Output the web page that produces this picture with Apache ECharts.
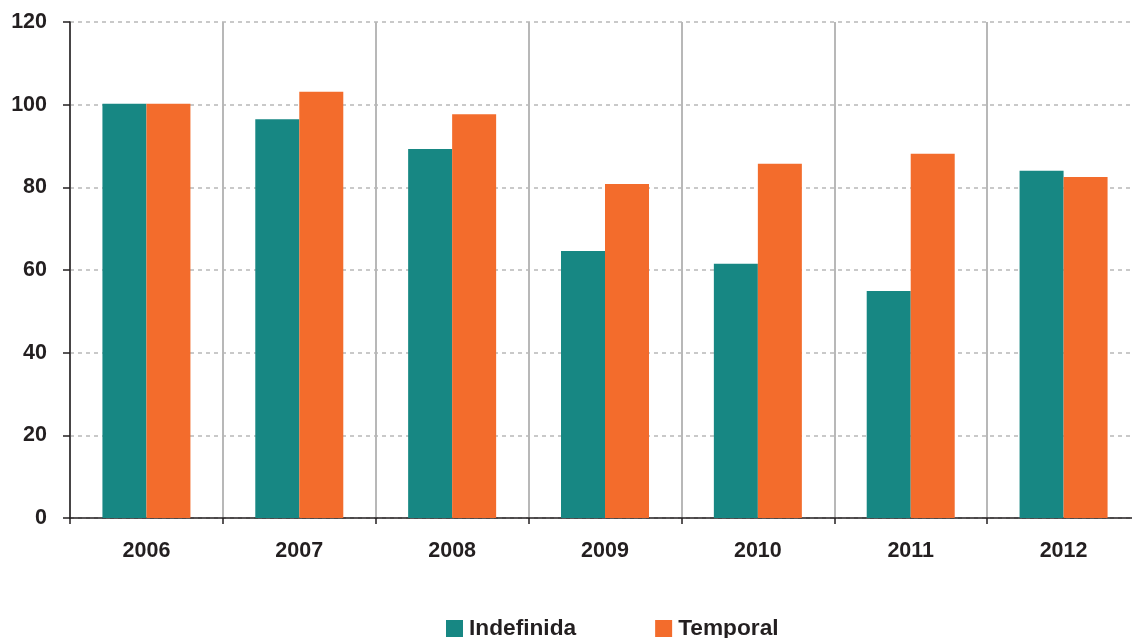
<!DOCTYPE html>
<html><head><meta charset="utf-8">
<script src="https://cdn.jsdelivr.net/npm/echarts@6/dist/echarts.min.js"></script>
<style>html,body{margin:0;padding:0;background:#fff;overflow:hidden}#c{width:1140px;height:638px}</style>
</head><body><div id="c"></div>
<script>
const categories = ['2006','2007','2008','2009','2010','2011','2012'];
const indefinida = [100.2, 96.5, 89.3, 64.6, 61.5, 54.9, 84.0];
const temporal = [100.2, 103.1, 97.7, 80.8, 85.7, 88.1, 82.5];
const yTicks = [0, 20, 40, 60, 80, 100, 120];

const chart = echarts.init(document.getElementById('c'));
const font = 'Liberation Sans, Arial, Helvetica, sans-serif';
chart.setOption({
  animation: false,
  grid: { left: 70, right: 0, top: 22, height: 496, containLabel: false },
  legend: {
    top: 617, left: 446, padding: 0, itemWidth: 17, itemHeight: 17, itemGap: 79,
    icon: 'rect',
    textStyle: { fontFamily: font, fontWeight: 'bold', fontSize: 22.7, color: '#231f20', padding: [0, 0, 0, 1] },
    data: ['Indefinida', 'Temporal']
  },
  xAxis: {
    type: 'category', data: categories,
    axisLine: { lineStyle: { color: '#231f20', width: 1.5 } },
    axisTick: { show: true, length: 6, lineStyle: { color: '#231f20', width: 1.5 } },
    splitLine: { show: true, lineStyle: { color: '#b8b8b8', width: 2 } },
    axisLabel: { margin: 22, fontFamily: font, fontWeight: 'bold', fontSize: 21.5, color: '#231f20' }
  },
  yAxis: {
    type: 'value', min: yTicks[0], max: yTicks[yTicks.length-1], interval: 20,
    axisLine: { show: true, lineStyle: { color: '#231f20', width: 1.5 } },
    axisTick: { show: true, length: 7, lineStyle: { color: '#231f20', width: 1.5 } },
    splitLine: { show: true, lineStyle: { color: '#b8b8b8', width: 1.5, type: [4, 4] } },
    axisLabel: { margin: 23, fontFamily: font, fontWeight: 'bold', fontSize: 21.5, color: '#231f20' }
  },
  series: [
    { name: 'Indefinida', type: 'bar', data: indefinida, barWidth: 44, barGap: '0%', itemStyle: { color: '#178783' } },
    { name: 'Temporal', type: 'bar', data: temporal, barWidth: 44, barGap: '0%', itemStyle: { color: '#f36c2c' } }
  ]
});
</script></body></html>
